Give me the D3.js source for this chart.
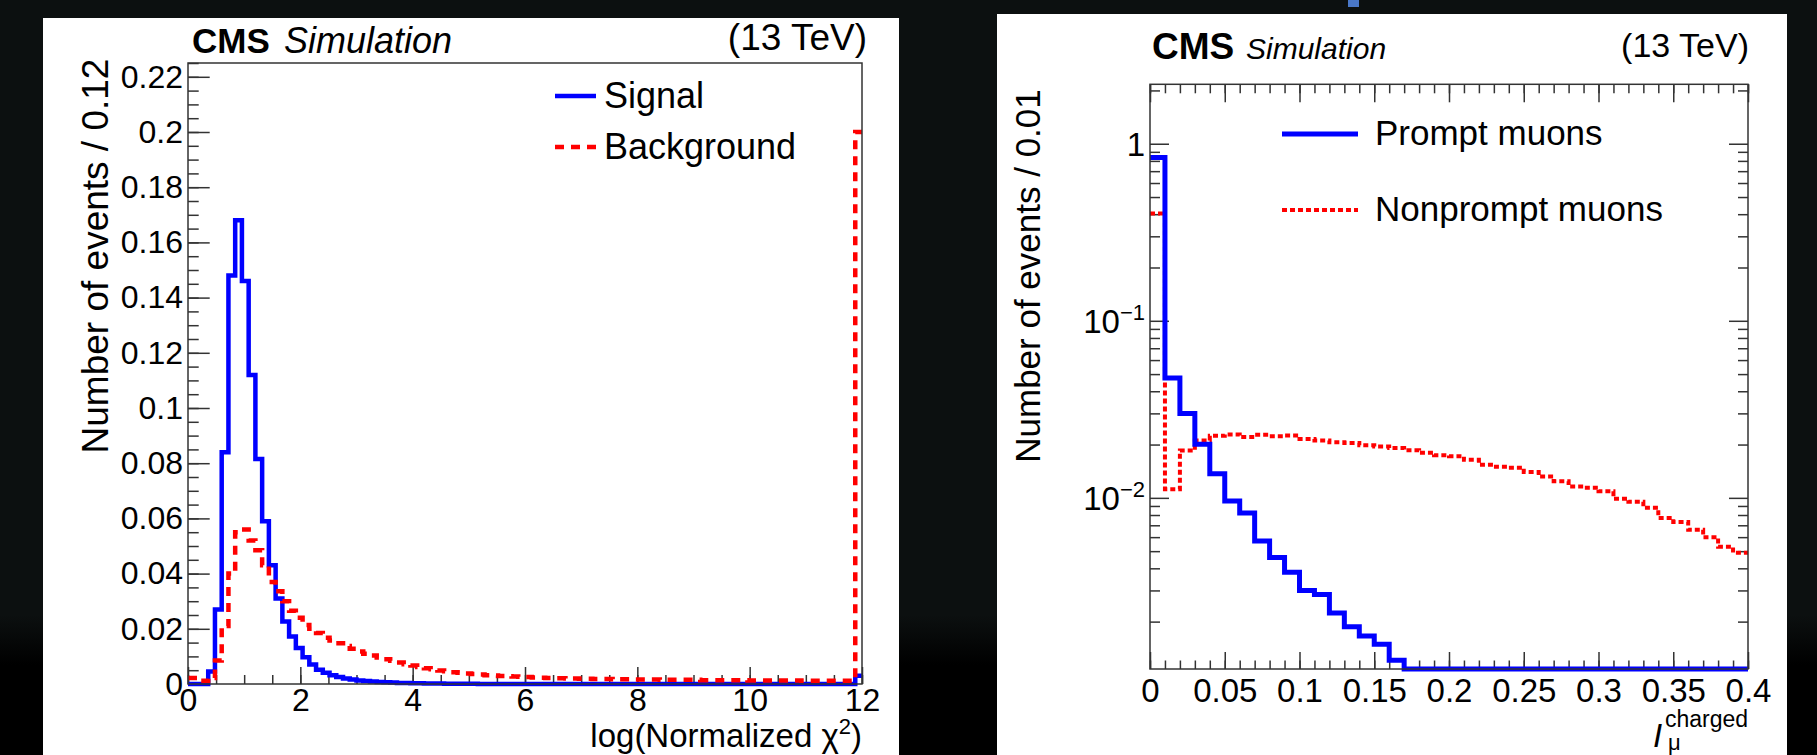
<!DOCTYPE html>
<html>
<head>
<meta charset="utf-8">
<script src="https://cdn.jsdelivr.net/npm/d3@7"></script>
<style>
body { margin: 0; background: #000; }
</style>
</head>
<body>
<script>
// left plot: log(normalized chi2), 100 bins of 0.12
var chiBin = 0.12;
var signalChi = [0, 0, 0, 0.0045, 0.027, 0.084, 0.148, 0.168, 0.146, 0.112,
    0.0815, 0.059, 0.043, 0.031, 0.0226, 0.0172, 0.013, 0.0097, 0.0071, 0.0052,
    0.0041, 0.0032, 0.0025, 0.002, 0.0016, 0.0013, 0.0011, 0.0009, 0.0007, 0.0006,
    0.0005, 0.0004, 0.0004, 0.0003, 0.0003, 0.0002, 0.0002, 0.0002, 0.0001, 0.0001,
    0.0001, 0.0001, 0.0001, 0, 0, 0, 0, 0, 0, 0,
    0, 0, 0, 0, 0, 0, 0, 0, 0, 0,
    0, 0, 0, 0, 0, 0, 0, 0, 0, 0,
    0, 0, 0, 0, 0, 0, 0, 0, 0, 0,
    0, 0, 0, 0, 0, 0, 0, 0, 0, 0,
    0, 0, 0, 0, 0, 0, 0, 0, 0, 0.003];
var backgroundChi = [0.0022, 0.0012, 0.0012, 0.0022, 0.0085, 0.021, 0.040, 0.055, 0.056, 0.052,
    0.0485, 0.043, 0.037, 0.0336, 0.030, 0.0265, 0.024, 0.0214, 0.020, 0.0185,
    0.0168, 0.0158, 0.0148, 0.0138, 0.0128, 0.0118, 0.011, 0.0103, 0.0096, 0.009,
    0.0084, 0.0078, 0.0072, 0.0067, 0.0062, 0.0057, 0.0053, 0.0049, 0.0046, 0.0043,
    0.0041, 0.0038, 0.0036, 0.0034, 0.0032, 0.0031, 0.0029, 0.0028, 0.0027, 0.0026,
    0.0025, 0.0024, 0.0023, 0.0022, 0.0021, 0.0021, 0.002, 0.002, 0.0019, 0.0019,
    0.0018, 0.0018, 0.0018, 0.0017, 0.0017, 0.0017, 0.0016, 0.0016, 0.0016, 0.0016,
    0.0015, 0.0015, 0.0015, 0.0015, 0.0015, 0.0015, 0.0014, 0.0014, 0.0014, 0.0014,
    0.0014, 0.0014, 0.0014, 0.0013, 0.0013, 0.0013, 0.0013, 0.0013, 0.0013, 0.0013,
    0.0013, 0.0012, 0.0012, 0.0012, 0.0012, 0.0012, 0.0012, 0.0012, 0.0012, 0.2];
var chiXTicks = [0, 2, 4, 6, 8, 10, 12];
var chiYTicks = [0, 0.02, 0.04, 0.06, 0.08, 0.1, 0.12, 0.14, 0.16, 0.18, 0.2, 0.22];

// right plot: charged isolation, 40 bins of 0.01
var isoBin = 0.01;
var promptIso = [0.836, 0.0476, 0.030, 0.0201, 0.0137, 0.0096, 0.0082, 0.0057, 0.0046, 0.0038,
    0.0030, 0.00285, 0.00224, 0.00187, 0.00166, 0.00149, 0.00121, 0, 0, 0,
    0, 0, 0, 0, 0, 0, 0, 0, 0, 0,
    0, 0, 0, 0, 0, 0, 0, 0, 0, 0];
var nonpromptIso = [0.404, 0.0112, 0.0185, 0.0211, 0.0224, 0.0228, 0.0221, 0.0227, 0.0223, 0.0225,
    0.0215, 0.0211, 0.0206, 0.0204, 0.0198, 0.0195, 0.0191, 0.0186, 0.018, 0.0174,
    0.0172, 0.0164, 0.0154, 0.015, 0.0148, 0.014, 0.0132, 0.0124, 0.0116, 0.0114,
    0.0109, 0.0099, 0.0095, 0.0088, 0.0077, 0.0073, 0.0066, 0.006, 0.0053, 0.0049];
var isoXTicks = [0, 0.05, 0.1, 0.15, 0.2, 0.25, 0.3, 0.35, 0.4];
var isoYTicks = [1, 0.1, 0.01];
var isoYLabels = [["1", ""], ["10", "\u22121"], ["10", "\u22122"]];

var font = "'Liberation Sans', Arial, Helvetica, sans-serif";
var w = 1817, h = 755;

var svg = d3.select("body")
    .append("svg")
    .attr("width", w)
    .attr("height", h);

var grad = svg.append("defs").append("linearGradient")
    .attr("id", "fade")
    .attr("gradientUnits", "userSpaceOnUse")
    .attr("x1", 0).attr("x2", 0).attr("y1", 615).attr("y2", 665);
grad.append("stop").attr("offset", 0).attr("stop-color", "#0c1010");
grad.append("stop").attr("offset", 1).attr("stop-color", "#000");

svg.append("rect").attr("width", w).attr("height", h).attr("fill", "url(#fade)");
svg.append("rect").attr("x", 1348).attr("y", 0).attr("width", 11).attr("height", 7).attr("fill", "#4a78c8");

// white panels
svg.append("rect").attr("x", 43).attr("y", 18).attr("width", 856).attr("height", h - 18).attr("fill", "#fff");
svg.append("rect").attr("x", 997).attr("y", 14).attr("width", 790).attr("height", h - 14).attr("fill", "#fff");

function stepPoints(values, bin) {
    var pts = values.map(function(v, i) { return [i * bin, v]; });
    pts.push([values.length * bin, values[values.length - 1]]);
    return pts;
}

function styleAxis(g, size) {
    g.select(".domain").remove();
    g.attr("font-family", font).attr("font-size", size);
    g.selectAll("line").attr("stroke", "#333").attr("stroke-width", 1.5);
    g.selectAll("text").attr("fill", "#000");
}

function label(x, y, txt, size, opts) {
    opts = opts || {};
    return svg.append("text")
        .attr("x", x).attr("y", y)
        .attr("font-family", font)
        .attr("font-size", size)
        .attr("font-weight", opts.bold ? "bold" : null)
        .attr("font-style", opts.italic ? "italic" : null)
        .attr("text-anchor", opts.anchor || "start")
        .attr("fill", "#000")
        .text(txt);
}

// ---------- left plot ----------
var xL = d3.scaleLinear().domain([0, 12]).range([188, 862]);
var yL = d3.scaleLinear().domain([0, 0.225]).range([684, 63]);

svg.append("g").attr("transform", "translate(0,684)")
    .call(d3.axisBottom(xL).tickValues(d3.range(0, 12.01, 0.5)).tickSize(-9).tickFormat(""))
    .call(styleAxis, 32);
svg.append("g").attr("transform", "translate(0,684)")
    .call(d3.axisBottom(xL).tickValues(chiXTicks).tickSize(-17).tickPadding(4).tickFormat(d3.format("d")))
    .call(styleAxis, 32);
svg.append("g").attr("transform", "translate(188,0)")
    .call(d3.axisLeft(yL).tickValues(d3.range(0, 0.2251, 0.005)).tickSize(-10.7).tickFormat(""))
    .call(styleAxis, 32);
svg.append("g").attr("transform", "translate(188,0)")
    .call(d3.axisLeft(yL).tickValues(chiYTicks).tickSize(-21.7).tickPadding(5)
        .tickFormat(function(d) { return String(+d.toFixed(2)); }))
    .call(styleAxis, 32);

var lineL = d3.line()
    .x(function(d) { return xL(d[0]); })
    .y(function(d) { return yL(d[1]); })
    .curve(d3.curveStepAfter);

svg.append("path")
    .attr("d", lineL(stepPoints(signalChi, chiBin)))
    .attr("fill", "none").attr("stroke", "#0000ff").attr("stroke-width", 4.5);
svg.append("path")
    .attr("d", lineL(stepPoints(backgroundChi, chiBin)))
    .attr("fill", "none").attr("stroke", "#ff0000").attr("stroke-width", 4.5)
    .attr("stroke-dasharray", "9,7");

svg.append("rect").attr("x", 188).attr("y", 63).attr("width", 674).attr("height", 621)
    .attr("fill", "none").attr("stroke", "#333").attr("stroke-width", 1.5);

label(192, 53, "CMS", 35, {bold: true});
label(284, 53, "Simulation", 36, {italic: true});
label(867, 50, "(13 TeV)", 37, {anchor: "end"});

svg.append("line").attr("x1", 555).attr("x2", 596).attr("y1", 96).attr("y2", 96)
    .attr("stroke", "#0000ff").attr("stroke-width", 4.5);
label(604, 108, "Signal", 36);
svg.append("line").attr("x1", 555).attr("x2", 596).attr("y1", 147).attr("y2", 147)
    .attr("stroke", "#ff0000").attr("stroke-width", 4.5).attr("stroke-dasharray", "9,7");
label(604, 159, "Background", 36);

svg.append("text")
    .attr("transform", "translate(108,256) rotate(-90)")
    .attr("text-anchor", "middle")
    .attr("font-family", font).attr("font-size", 37).attr("fill", "#000")
    .text("Number of events / 0.12");

var xt = label(862, 747, "log(Normalized \u03c7", 33, {anchor: "end"});
xt.append("tspan").attr("dy", -13).attr("font-size", 22).text("2");
xt.append("tspan").attr("dy", 13).text(")");

// ---------- right plot ----------
var xR = d3.scaleLinear().domain([0, 0.4]).range([1150, 1748]);
var yR = d3.scaleLog().domain([0.00108, 2.166]).range([669, 84.3]);
var yMinor = [];
[0.001, 0.01, 0.1, 1].forEach(function(dec) {
    for (var m = 2; m <= 9; m++) {
        if (dec * m < 2.166) yMinor.push(dec * m);
    }
});
var xMinor = d3.range(0, 0.4001, 0.01);

svg.append("g").attr("transform", "translate(0,669)")
    .call(d3.axisBottom(xR).tickValues(xMinor).tickSize(-8.5).tickFormat(""))
    .call(styleAxis, 33);
svg.append("g").attr("transform", "translate(0,669)")
    .call(d3.axisBottom(xR).tickValues(isoXTicks).tickSize(-17).tickPadding(10)
        .tickFormat(function(d) { return String(+d.toFixed(2)); }))
    .call(styleAxis, 33);
svg.append("g").attr("transform", "translate(0,84.3)")
    .call(d3.axisTop(xR).tickValues(xMinor).tickSize(-9).tickFormat(""))
    .call(styleAxis, 33);
svg.append("g").attr("transform", "translate(0,84.3)")
    .call(d3.axisTop(xR).tickValues(isoXTicks).tickSize(-18).tickFormat(""))
    .call(styleAxis, 33);
svg.append("g").attr("transform", "translate(1150,0)")
    .call(d3.axisLeft(yR).tickValues(yMinor).tickSize(-10).tickFormat(""))
    .call(styleAxis, 33);
svg.append("g").attr("transform", "translate(1150,0)")
    .call(d3.axisLeft(yR).tickValues(isoYTicks).tickSize(-19).tickFormat(""))
    .call(styleAxis, 33);
svg.append("g").attr("transform", "translate(1748,0)")
    .call(d3.axisRight(yR).tickValues(yMinor).tickSize(-10).tickFormat(""))
    .call(styleAxis, 33);
svg.append("g").attr("transform", "translate(1748,0)")
    .call(d3.axisRight(yR).tickValues(isoYTicks).tickSize(-19).tickFormat(""))
    .call(styleAxis, 33);

isoYTicks.forEach(function(t, i) {
    var tx = label(1145, yR(t) + 12, isoYLabels[i][0], 33, {anchor: "end"});
    if (isoYLabels[i][1]) {
        tx.append("tspan").attr("dy", -13).attr("font-size", 22).text(isoYLabels[i][1]);
    }
});

var lineR = d3.line()
    .x(function(d) { return xR(d[0]); })
    .y(function(d) { return yR(Math.max(d[1], 0.00108)); })
    .curve(d3.curveStepAfter);

svg.append("path")
    .attr("d", lineR(stepPoints(nonpromptIso, isoBin)))
    .attr("fill", "none").attr("stroke", "#ff0000").attr("stroke-width", 4)
    .attr("stroke-dasharray", "5,3");
svg.append("path")
    .attr("d", lineR(stepPoints(promptIso, isoBin)))
    .attr("fill", "none").attr("stroke", "#0000ff").attr("stroke-width", 5);

svg.append("rect").attr("x", 1150).attr("y", 84.3).attr("width", 598).attr("height", 584.7)
    .attr("fill", "none").attr("stroke", "#333").attr("stroke-width", 1.5);

label(1152, 59, "CMS", 37, {bold: true});
label(1246, 59, "Simulation", 30, {italic: true});
label(1749, 57, "(13 TeV)", 34, {anchor: "end"});

svg.append("line").attr("x1", 1282).attr("x2", 1358).attr("y1", 134).attr("y2", 134)
    .attr("stroke", "#0000ff").attr("stroke-width", 5);
label(1375, 145, "Prompt muons", 35);
svg.append("line").attr("x1", 1282).attr("x2", 1358).attr("y1", 210).attr("y2", 210)
    .attr("stroke", "#ff0000").attr("stroke-width", 4).attr("stroke-dasharray", "5,3");
label(1375, 221, "Nonprompt muons", 35);

svg.append("text")
    .attr("transform", "translate(1040,276) rotate(-90)")
    .attr("text-anchor", "middle")
    .attr("font-family", font).attr("font-size", 35).attr("fill", "#000")
    .text("Number of events / 0.01");

label(1653, 747, "I", 33, {italic: true});
label(1665, 727, "charged", 23);
label(1668, 750, "\u03bc", 22);
</script>
</body>
</html>
